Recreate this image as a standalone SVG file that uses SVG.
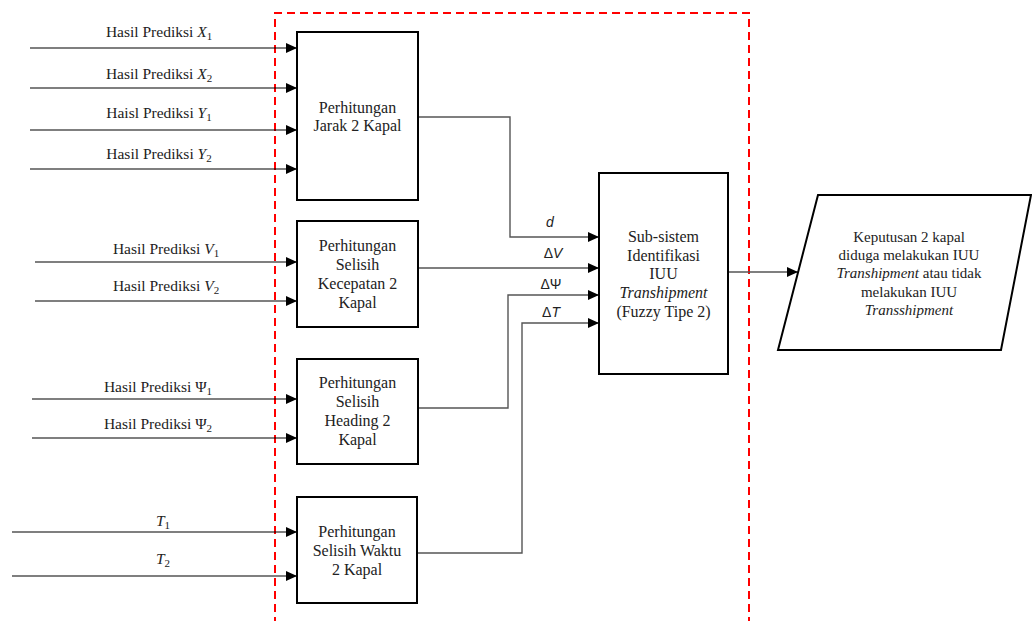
<svg xmlns="http://www.w3.org/2000/svg" width="1032" height="621" viewBox="0 0 1032 621">
  <defs>
    <marker id="ah" markerUnits="userSpaceOnUse" markerWidth="11" markerHeight="10" refX="11" refY="5" orient="auto">
      <path d="M0,0 L11,5 L0,10 z" fill="#000"/>
    </marker>
  </defs>
  <style>
    .lbl{font-family:"Liberation Serif",serif;font-size:15.5px;fill:#222;text-anchor:middle}
    .sub{font-size:11px}
    .box{fill:#fff;stroke:#000;stroke-width:2}
    .btxt{font-family:"Liberation Serif",serif;font-size:16px;fill:#222;text-anchor:middle}
    .ptxt{font-family:"Liberation Serif",serif;font-size:15px;fill:#222;text-anchor:middle}
    .sym{font-family:"Liberation Sans",sans-serif;font-size:14px;fill:#222;text-anchor:middle}
    .in{stroke:#000;stroke-width:1.2;fill:none;marker-end:url(#ah)}
    .conn{stroke:#555;stroke-width:1.4;fill:none;marker-end:url(#ah)}
    .frame{stroke:#ff0000;stroke-width:2;stroke-dasharray:8 5;fill:none}
  </style>
  <rect width="1032" height="621" fill="#fff"/>

  <!-- dashed system boundary (open at the bottom) -->
  <path class="frame" d="M275,625 V13 H749 V625"/>

  <!-- input signals -->
  <g id="inputs">
    <path class="in" d="M30,48 H297"/>
    <path class="in" d="M30,88 H297"/>
    <path class="in" d="M30,130 H297"/>
    <path class="in" d="M30,169 H297"/>
    <path class="in" d="M35,262 H297"/>
    <path class="in" d="M35,301 H297"/>
    <path class="in" d="M32,399 H297"/>
    <path class="in" d="M32,438 H297"/>
    <path class="in" d="M12,532 H297"/>
    <path class="in" d="M12,576 H297"/>
    <text class="lbl" x="159" y="37">Hasil Prediksi <tspan font-style="italic">X</tspan><tspan class="sub" dy="3">1</tspan></text>
    <text class="lbl" x="159" y="79">Hasil Prediksi <tspan font-style="italic">X</tspan><tspan class="sub" dy="3">2</tspan></text>
    <text class="lbl" x="159" y="118">Haisl Prediksi <tspan font-style="italic">Y</tspan><tspan class="sub" dy="3">1</tspan></text>
    <text class="lbl" x="159" y="159">Hasil Prediksi <tspan font-style="italic">Y</tspan><tspan class="sub" dy="3">2</tspan></text>
    <text class="lbl" x="166" y="254">Hasil Prediksi <tspan font-style="italic">V</tspan><tspan class="sub" dy="3">1</tspan></text>
    <text class="lbl" x="166" y="291">Hasil Prediksi <tspan font-style="italic">V</tspan><tspan class="sub" dy="3">2</tspan></text>
    <text class="lbl" x="158" y="392">Hasil Prediksi Ψ<tspan class="sub" dy="3">1</tspan></text>
    <text class="lbl" x="158" y="429">Hasil Prediksi Ψ<tspan class="sub" dy="3">2</tspan></text>
    <text class="lbl" x="163" y="526"><tspan font-style="italic">T</tspan><tspan class="sub" dy="3">1</tspan></text>
    <text class="lbl" x="163" y="564"><tspan font-style="italic">T</tspan><tspan class="sub" dy="3">2</tspan></text>
  </g>

  <!-- connectors between blocks -->
  <g id="connectors">
    <path class="conn" d="M418,117 H510 V237 H599"/>
    <path class="conn" d="M418,268 H599"/>
    <path class="conn" d="M418,408 H508 V295 H599"/>
    <path class="conn" d="M417,553 H522 V323 H599"/>
    <path class="conn" d="M728,272 H798"/>
    <text class="sym" x="550" y="227" font-style="italic">d</text>
    <text class="sym" x="553" y="258">Δ<tspan font-style="italic">V</tspan></text>
    <text class="sym" x="551" y="289">ΔΨ</text>
    <text class="sym" x="551" y="317">Δ<tspan font-style="italic">T</tspan></text>
  </g>

  <g id="jarak">
    <rect class="box" x="297" y="32" width="121" height="168"/>
    <text class="btxt" x="357.5" y="113">Perhitungan</text>
    <text class="btxt" x="357.5" y="131">Jarak 2 Kapal</text>
  </g>

  <g id="kecepatan">
    <rect class="box" x="297" y="221" width="121" height="106"/>
    <text class="btxt" x="357.5" y="251">Perhitungan</text>
    <text class="btxt" x="357.5" y="270">Selisih</text>
    <text class="btxt" x="357.5" y="289">Kecepatan 2</text>
    <text class="btxt" x="357.5" y="308">Kapal</text>
  </g>

  <g id="heading">
    <rect class="box" x="297" y="359" width="121" height="105"/>
    <text class="btxt" x="357.5" y="388">Perhitungan</text>
    <text class="btxt" x="357.5" y="407">Selisih</text>
    <text class="btxt" x="357.5" y="426">Heading 2</text>
    <text class="btxt" x="357.5" y="445">Kapal</text>
  </g>

  <g id="waktu">
    <rect class="box" x="297" y="497" width="120" height="106"/>
    <text class="btxt" x="357" y="537">Perhitungan</text>
    <text class="btxt" x="357" y="556">Selisih Waktu</text>
    <text class="btxt" x="357" y="575">2 Kapal</text>
  </g>

  <g id="fuzzy">
    <rect class="box" x="599" y="173" width="129" height="201"/>
    <text class="btxt" x="663.5" y="242">Sub-sistem</text>
    <text class="btxt" x="663.5" y="261">Identifikasi</text>
    <text class="btxt" x="663.5" y="279">IUU</text>
    <text class="btxt" x="663.5" y="298" font-style="italic">Transhipment</text>
    <text class="btxt" x="663.5" y="317">(Fuzzy Tipe 2)</text>
  </g>

  <g id="keputusan">
    <path d="M818,195 H1031 L1001,350 H778 Z" fill="#fff" stroke="#000" stroke-width="2"/>
    <text class="ptxt" x="909" y="242">Keputusan 2 kapal</text>
    <text class="ptxt" x="909" y="260">diduga melakukan IUU</text>
    <text class="ptxt" x="909" y="278"><tspan font-style="italic">Transhipment</tspan> atau tidak</text>
    <text class="ptxt" x="909" y="297">melakukan IUU</text>
    <text class="ptxt" x="909" y="315" font-style="italic">Transshipment</text>
  </g>
</svg>
